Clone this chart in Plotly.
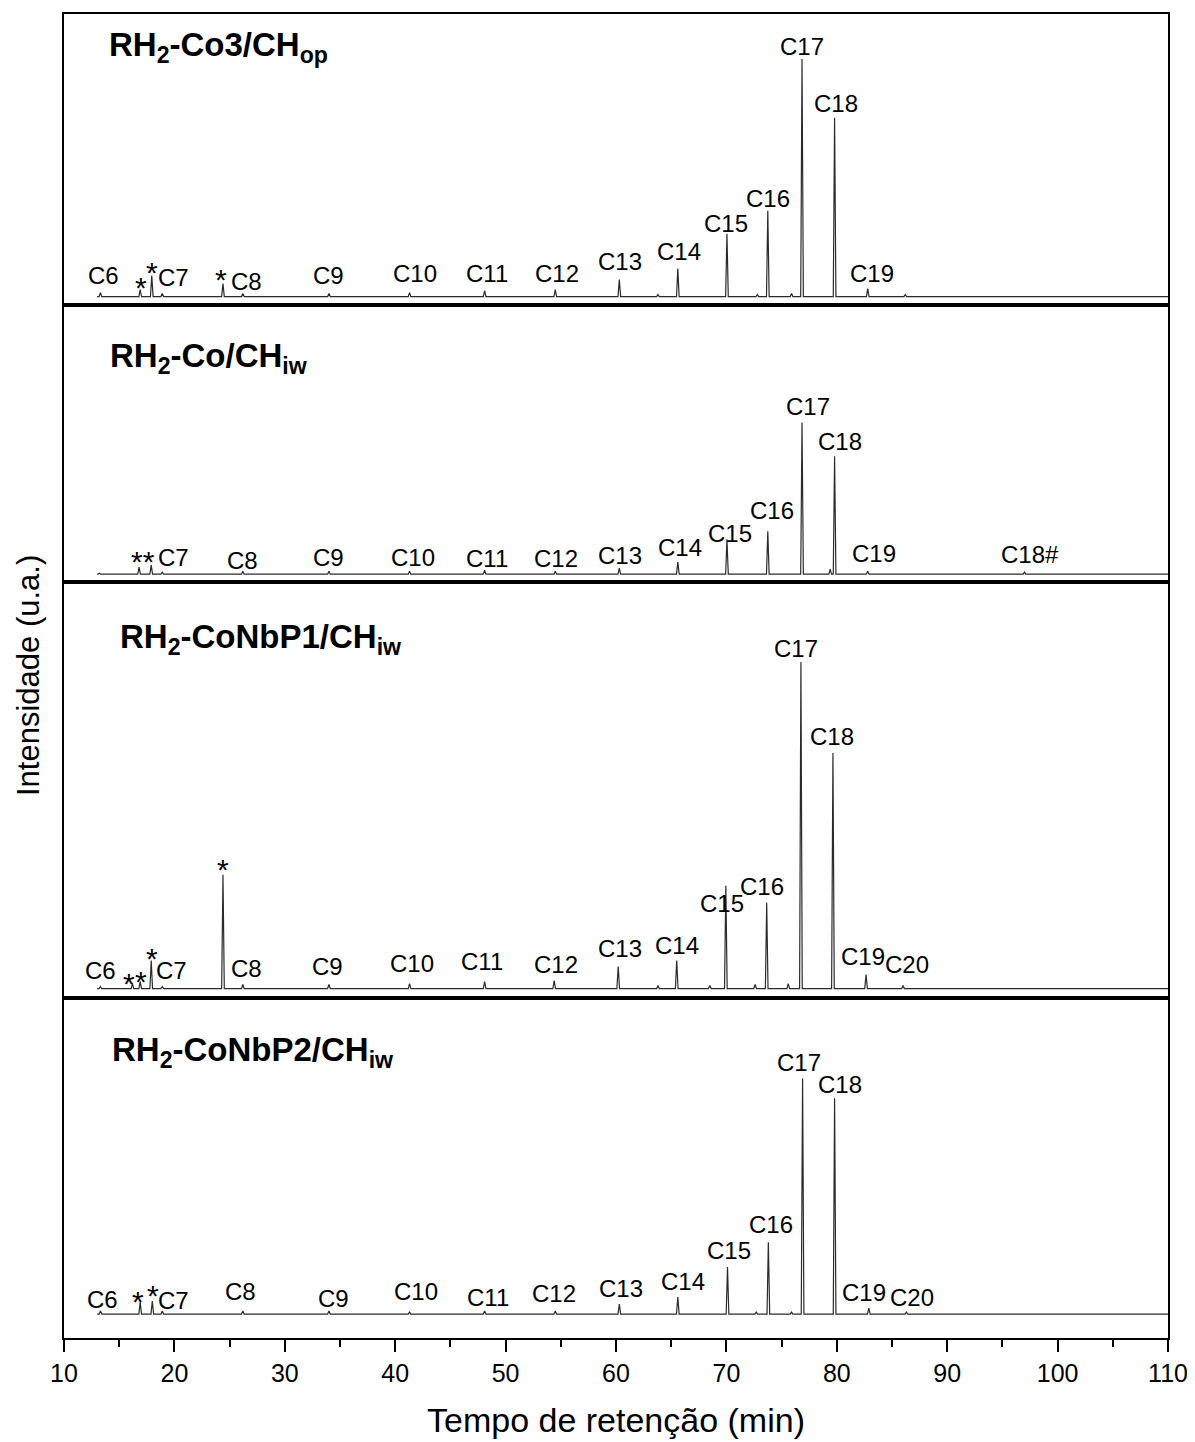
import plotly.graph_objects as go
from plotly.subplots import make_subplots

# ---------------- data (retention time in min, peak height in a.u.) ----------------
x_start = [13.0, 13.0, 13.0, 13.0]
x_end = 110.0

t_co3 = [13.3, 16.9, 17.95, 18.9, 24.4, 26.2, 34.0, 41.3, 48.1, 54.5, 60.3, 63.8, 65.6, 70.05, 72.8, 73.75, 75.9, 76.85, 79.8, 82.8, 86.2]
h_co3 = [4, 7, 21, 3, 13, 3, 3, 4, 6, 7, 17, 2, 28, 63, 2, 86, 3, 238, 179, 8, 2]

t_co = [13.2, 16.8, 17.9, 18.9, 26.2, 34.0, 41.3, 48.1, 54.5, 60.3, 65.6, 70.05, 73.75, 76.85, 79.4, 79.8, 82.8, 97.0]
h_co = [1, 7, 9, 2, 3, 3, 3, 4, 3, 6, 12, 35, 43, 152, 5, 118, 3, 2]

t_nbp1 = [13.3, 16.2, 16.9, 17.9, 18.9, 24.4, 26.2, 34.0, 41.3, 48.1, 54.4, 60.2, 63.8, 65.5, 68.5, 69.95, 72.6, 73.65, 75.6, 76.75, 79.65, 82.65, 86.0]
h_nbp1 = [2, 5, 7, 28, 2, 114, 4, 4, 5, 7, 8, 22, 3, 28, 3, 103, 4, 86, 5, 327, 236, 14, 3]

t_nbp2 = [13.3, 16.9, 18.0, 18.9, 26.2, 34.0, 41.3, 48.1, 54.5, 60.3, 65.6, 70.1, 72.7, 73.8, 75.9, 76.9, 79.8, 82.9, 86.3]
h_nbp2 = [3, 12, 13, 3, 3, 3, 2, 3, 3, 10, 17, 47, 2, 72, 2, 236, 216, 6, 2]

# peak labels: text, x (min), y (a.u.)
lab_co3_txt = ["C6", "*", "*", "C7", "*", "C8", "C9", "C10", "C11", "C12", "C13", "C14", "C15", "C16", "C17", "C18", "C19"]
lab_co3_x = [13.6, 17.0, 17.97, 19.96, 24.2, 26.5, 34.0, 41.8, 48.3, 54.65, 60.4, 65.7, 69.96, 73.77, 76.85, 79.93, 83.2]
lab_co3_y = [21, 9, 24, 19, 17, 15, 21, 23, 23, 23, 35, 45, 73, 98, 250, 193, 23]

lab_co_txt = ["**", "C7", "C8", "C9", "C10", "C11", "C12", "C13", "C14", "C15", "C16", "C17", "C18", "C19", "C18#"]
lab_co_x = [17.16, 19.96, 26.2, 34.0, 41.6, 48.3, 54.6, 60.4, 65.8, 70.3, 74.1, 77.4, 80.3, 83.4, 97.5]
lab_co_y = [13, 17, 14, 17, 17, 16, 16, 19, 27, 41, 64, 168, 133, 21, 20]

lab_nbp1_txt = ["C6", "*", "*", "*", "C7", "*", "C8", "C9", "C10", "C11", "C12", "C13", "C14", "C15", "C16", "C17", "C18", "C19", "C20"]
lab_nbp1_x = [13.35, 15.9, 17.0, 17.97, 19.78, 24.4, 26.5, 33.9, 41.5, 47.9, 54.6, 60.4, 65.5, 69.6, 73.2, 76.3, 79.6, 82.4, 86.4]
lab_nbp1_y = [18, 5, 7, 30, 18, 119, 20, 22, 25, 27, 24, 40, 43, 85, 102, 341, 252, 32, 24]

lab_nbp2_txt = ["C6", "*", "*", "C7", "C8", "C9", "C10", "C11", "C12", "C13", "C14", "C15", "C16", "C17", "C18", "C19", "C20"]
lab_nbp2_x = [13.5, 16.7, 18.06, 19.96, 26.0, 34.4, 41.9, 48.4, 54.4, 60.45, 66.1, 70.2, 74.0, 76.6, 80.3, 82.5, 86.8]
lab_nbp2_y = [15, 13, 19, 14, 23, 16, 23, 17, 21, 26, 33, 64, 90, 252, 230, 22, 17]

panel_titles = [
    "<b>RH<sub>2</sub>-Co3/CH<sub>op</sub></b>",
    "<b>RH<sub>2</sub>-Co/CH<sub>iw</sub></b>",
    "<b>RH<sub>2</sub>-CoNbP1/CH<sub>iw</sub></b>",
    "<b>RH<sub>2</sub>-CoNbP2/CH<sub>iw</sub></b>",
]

# ---------------- layout constants ----------------
FONT = "Liberation Sans, Arial, sans-serif"
row_px = [291, 278, 416, 341]
y_ranges = [[-8, 283], [-8, 270], [-9, 407], [-24, 317]]
title_pos = [(0.039, 0.975), (0.040, 0.740), (0.049, 0.528), (0.042, 0.216)]
HALF_W = 0.12

panels = [
    (t_co3, h_co3, lab_co3_txt, lab_co3_x, lab_co3_y),
    (t_co, h_co, lab_co_txt, lab_co_x, lab_co_y),
    (t_nbp1, h_nbp1, lab_nbp1_txt, lab_nbp1_x, lab_nbp1_y),
    (t_nbp2, h_nbp2, lab_nbp2_txt, lab_nbp2_x, lab_nbp2_y),
]

fig = make_subplots(rows=4, cols=1, shared_xaxes=True, vertical_spacing=0, row_heights=row_px)

annotations = []
for i, (ts, hs, ltxt, lx, ly) in enumerate(panels):
    row = i + 1
    xs, ys = [x_start[i]], [0]
    for t, h in sorted(zip(ts, hs)):
        xs += [t - HALF_W, t, t + HALF_W]
        ys += [0, h, 0]
    xs.append(x_end)
    ys.append(0)
    fig.add_trace(go.Scatter(x=xs, y=ys, mode="lines",
                             line=dict(color="#2b2b2b", width=1.2),
                             showlegend=False, hoverinfo="skip"), row=row, col=1)
    sfx = "" if row == 1 else str(row)
    for txt, x, y in zip(ltxt, lx, ly):
        size = 30 if txt.startswith("*") else 24
        annotations.append(dict(x=x, y=y, xref="x" + sfx, yref="y" + sfx, text=txt,
                                showarrow=False, xanchor="center", yanchor="middle",
                                font=dict(family=FONT, size=size, color="black")))
    tx, ty = title_pos[i]
    annotations.append(dict(x=tx, y=ty, xref="paper", yref="paper", text=panel_titles[i],
                            showarrow=False, xanchor="left", yanchor="middle",
                            font=dict(family=FONT, size=33, color="black")))
    fig.update_yaxes(range=y_ranges[i], showline=True, mirror=True, linewidth=2, linecolor="black",
                     showticklabels=False, ticks="", showgrid=False, zeroline=False, row=row, col=1)
    if row < 4:
        fig.update_xaxes(range=[10, 110], showline=True, mirror=True, linewidth=2, linecolor="black",
                         showticklabels=False, ticks="", showgrid=False, zeroline=False, row=row, col=1)

fig.update_xaxes(range=[10, 110], showline=True, mirror=True, linewidth=2, linecolor="black",
                 ticks="outside", ticklen=12, tickwidth=2, tickcolor="black", dtick=10, tick0=10,
                 minor=dict(ticks="outside", ticklen=7, tickwidth=2, tickcolor="black", dtick=5),
                 tickfont=dict(family=FONT, size=25, color="black"),
                 showgrid=False, zeroline=False, row=4, col=1)

annotations.append(dict(x=0.5, y=-0.062, xref="paper", yref="paper", text="Tempo de retenção (min)",
                        showarrow=False, xanchor="center", yanchor="middle",
                        font=dict(family=FONT, size=34, color="black")))
annotations.append(dict(x=-0.0326, y=0.5, xref="paper", yref="paper", text="Intensidade (u.a.)",
                        showarrow=False, xanchor="center", yanchor="middle", textangle=-90,
                        font=dict(family=FONT, size=31, color="black")))

# page body has an 8 px default margin: compensate so the plot area lands at 64..1168 x 12..1338
fig.update_layout(width=1187, height=1434, margin=dict(l=56, r=27, t=4, b=104),
                  plot_bgcolor="white", paper_bgcolor="white", annotations=annotations,
                  font=dict(family=FONT, color="black"))

fig.write_html("out.html")
